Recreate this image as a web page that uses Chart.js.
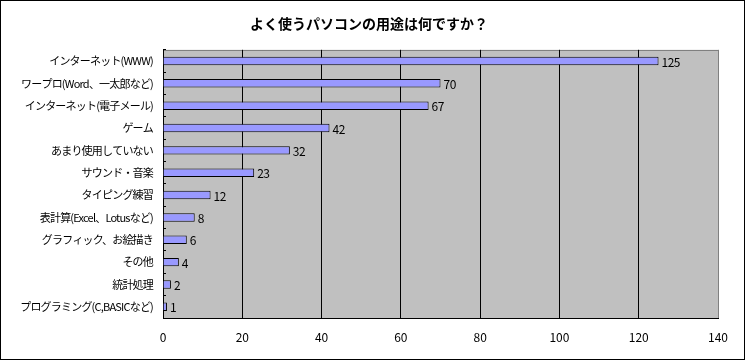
<!DOCTYPE html>
<html>
<head>
<meta charset="utf-8">
<script src="https://cdn.jsdelivr.net/npm/chart.js@4/dist/chart.umd.min.js"></script>
<style>
  body { margin: 0; background: #fff; }
  #wrap { width: 746px; height: 362px; }
</style>
</head>
<body>
<div id="wrap"><canvas id="grafico"></canvas></div>
<script>
// datos
const usos = [
  'インターネット(WWW)',
  'ワープロ(Word、一太郎など)',
  'インターネット(電子メール)',
  'ゲーム',
  'あまり使用していない',
  'サウンド・音楽',
  'タイピング練習',
  '表計算(Excel、Lotusなど)',
  'グラフィック、お絵描き',
  'その他',
  '統計処理',
  'プログラミング(C,BASICなど)'
];
const respuestas = [125, 70, 67, 42, 32, 23, 12, 8, 6, 4, 2, 1];
const ejeX = { min: 0, max: 140, paso: 20 };

const fuente = '"Noto Sans CJK JP", sans-serif';

// fondo gris del area de trazado + marco exterior
const fondoPlot = {
  id: 'fondoPlot',
  beforeDraw(chart) {
    const ctx = chart.ctx;
    const a = chart.chartArea;
    ctx.letterSpacing = '0px';
    ctx.save();
    ctx.fillStyle = '#c0c0c0';
    ctx.fillRect(a.left, a.top, a.right - a.left, a.bottom - a.top);
    ctx.strokeStyle = '#808080';
    ctx.lineWidth = 1;
    ctx.strokeRect(Math.round(a.left) + 0.5, Math.round(a.top) + 0.5, Math.round(a.right - a.left), Math.round(a.bottom - a.top));
    ctx.strokeStyle = '#000';
    ctx.strokeRect(0.5, 0.5, chart.width - 2, chart.height - 3);
    ctx.restore();
  }
};

// valores al final de cada barra
const etiquetas = {
  id: 'etiquetas',
  afterDatasetsDraw(chart) {
    const ctx = chart.ctx;
    const meta = chart.getDatasetMeta(0);
    ctx.save();
    ctx.font = '12px ' + fuente;
    ctx.fillStyle = '#000';
    ctx.textBaseline = 'middle';
    ctx.textAlign = 'left';
    ctx.letterSpacing = '-0.5px';
    meta.data.forEach((barra, i) => {
      ctx.fillText(respuestas[i], barra.x + 3, barra.y + 1);
    });
    ctx.restore();
    // las etiquetas del eje y se dibujan despues (ticks.z = 1), mas estrechas
    ctx.letterSpacing = '-0.8px';
  },
  afterDraw(chart) {
    chart.ctx.letterSpacing = '0px';
  }
};

const grafico = new Chart(document.getElementById('grafico'), {
  type: 'bar',
  data: {
    labels: usos,
    datasets: [{
      data: respuestas,
      backgroundColor: '#9999ff',
      borderColor: '#000',
      borderWidth: 1,
      barPercentage: 0.38,
      categoryPercentage: 1
    }]
  },
  options: {
    indexAxis: 'y',
    responsive: true,
    maintainAspectRatio: false,
    animation: false,
    layout: { padding: { left: 20, right: 28, top: 0, bottom: 0 } },
    plugins: {
      legend: { display: false },
      tooltip: { enabled: false },
      title: {
        display: true,
        text: 'よく使うパソコンの用途は何ですか？',
        color: '#000',
        font: { family: fuente, size: 14, weight: 'bold' },
        padding: { top: 15, bottom: 18 }
      }
    },
    scales: {
      x: {
        min: ejeX.min,
        max: ejeX.max,
        ticks: {
          stepSize: ejeX.paso,
          color: '#000',
          padding: 12,
          font: { family: fuente, size: 12 }
        },
        grid: {
          color: ctx => ctx.tick && ctx.tick.value === ejeX.max ? '#808080' : '#000',
          drawTicks: false
        },
        border: { color: '#000' },
        afterFit: s => { s.height = 44; }
      },
      y: {
        ticks: {
          color: '#000',
          padding: 13,
          z: 1,
          font: { family: fuente, size: 11 }
        },
        grid: {
          drawOnChartArea: false,
          tickLength: -3,
          color: '#000'
        },
        border: { color: '#000' },
        afterFit: s => { s.width = 143; }
      }
    }
  },
  plugins: [fondoPlot, etiquetas]
});
</script>
</body>
</html>
